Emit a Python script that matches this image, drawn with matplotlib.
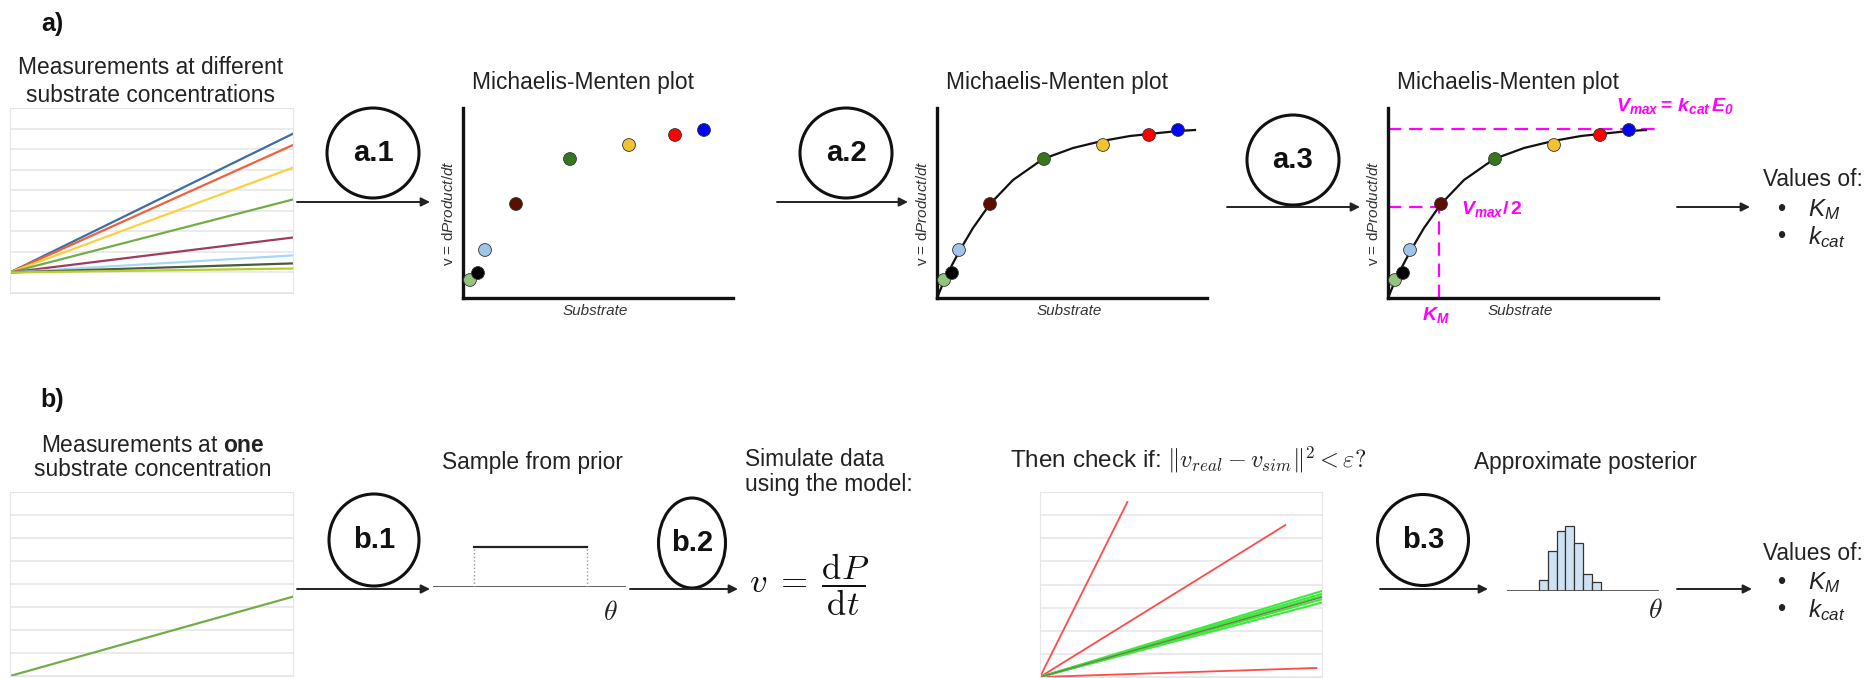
import numpy as np
import matplotlib
matplotlib.use("Agg")
import matplotlib.pyplot as plt
from matplotlib.patches import Ellipse

plt.rcParams["font.family"] = "Liberation Sans"
plt.rcParams["mathtext.fontset"] = "custom"
plt.rcParams["mathtext.rm"] = "Liberation Sans"
plt.rcParams["mathtext.it"] = "Liberation Sans:italic"
plt.rcParams["mathtext.bf"] = "Liberation Sans:bold"
plt.rcParams["mathtext.bfit"] = "Liberation Sans:italic:bold"

# product curves at different substrate concentrations (end value, grid units)
tc_colors = ["#3b6ea5", "#f2603a", "#fcd040", "#72ad48", "#9e3d5e", "#a6d8f5", "#4b5a38", "#b5cf2f"]
tc_end = [6.75, 6.2, 5.1, 3.55, 1.7, 0.83, 0.44, 0.19]
tc_time = [0, 1]

# Michaelis-Menten points (substrate, rate)
mm_s = [7, 15, 22, 53, 107, 166, 212, 241]
mm_v = [18, 25, 48, 94, 139, 153, 163, 168]
mm_colors = ["#93c47d", "#000000", "#9fc5e8", "#5b0f00", "#38761d", "#f1c232", "#ff0000", "#0000ff"]

# fitted curve
fit_s = [0, 7, 15, 23, 36, 53, 76, 106, 136, 165, 193, 212, 241, 258]
fit_v = [0, 17, 33, 48, 70, 94, 118, 139, 150, 157, 162, 164, 167, 168]
vmax_level = 169
half_level = 91
km = 51

# single measurement and simulations
real_end = 3.45
accepted_end = [3.72, 3.6, 3.5, 3.36, 3.22]
rejected_t = [0.31, 0.87, 0.98]
rejected_end = [7.57, 6.57, 0.39]

# prior and posterior
prior_lo, prior_hi = 0.21, 0.80
post_edges = [0.2125, 0.2678, 0.3270, 0.3836, 0.4408, 0.4980, 0.5592, 0.6164]
post_counts = [4, 14, 21, 23, 17, 6, 3]

W, H = 1871, 678
INK = "#222222"
MAG = "#ff00ff"
FS = 16.4

fig = plt.figure(figsize=(W / 100, H / 100), dpi=100)
layer = fig.add_axes([0, 0, 1, 1])
layer.set_xlim(0, W)
layer.set_ylim(H, 0)
layer.axis("off")


def panel(x0, y0, x1, y1):
    return fig.add_axes([x0 / W, 1 - y1 / H, (x1 - x0) / W, (y1 - y0) / H])


def txt(x, y, s, size=FS, **kw):
    kw.setdefault("color", INK)
    kw.setdefault("ha", "center")
    kw.setdefault("va", "center")
    layer.text(x, y, s, fontsize=size, **kw)


def arrow(x0, x1, y):
    layer.annotate("", xy=(x1, y), xytext=(x0, y),
                   arrowprops=dict(arrowstyle="-|>", color=INK, lw=1.4,
                                   mutation_scale=13, shrinkA=0, shrinkB=0))


def step(cx, cy, w, h, label):
    layer.add_patch(Ellipse((cx, cy), w, h, fill=False, lw=2.2, color="#111111"))
    txt(cx, cy, label, size=21, fontweight="bold", color="#111111")


def grid_panel(x0, y0, x1, y1, ylo, yhi):
    ax = panel(x0, y0, x1, y1)
    ax.set_xlim(0, 1)
    ax.set_ylim(ylo, yhi)
    ax.set_xticks([])
    ax.set_yticks(range(ylo, yhi + 1))
    ax.tick_params(length=0, labelleft=False)
    ax.grid(axis="y", color="#e6e6e6", lw=1.1)
    ax.set_axisbelow(True)
    for sp in ax.spines.values():
        sp.set_color("#e6e6e6")
    return ax


def mm_axes(x0):
    ax = panel(x0, 108, x0 + 270, 298)
    ax.set_xlim(0, 270)
    ax.set_ylim(0, 190)
    ax.patch.set_alpha(0)
    for k in ("top", "right"):
        ax.spines[k].set_visible(False)
    for k in ("left", "bottom"):
        ax.spines[k].set_linewidth(2.4)
        ax.spines[k].set_color("#111111")
    ax.set_xticks([])
    ax.set_yticks([])
    txt(x0 + 120, 82, "Michaelis-Menten plot")
    txt(x0 - 14, 213, "v = d$Product/dt$", size=11, rotation=90, color="#333333")
    txt(x0 + 132, 311, "Substrate", size=11, style="italic", color="#333333")
    return ax


def mm_points(ax):
    ax.scatter(mm_s, mm_v, s=85, c=mm_colors, edgecolors="#333333",
               linewidths=0.6, zorder=3, clip_on=False)


def mm_fit(ax):
    ax.plot(fit_s, fit_v, color="#111111", lw=1.6, zorder=2, clip_on=False)


# ---- row a ----
txt(52, 24, "a)", size=18, fontweight="bold", color="#111111")
txt(151, 68, "Measurements at different")
txt(151, 95, "substrate concentrations")
ax = grid_panel(10, 108, 293, 293, -1, 8)
for c, e in zip(tc_colors, tc_end):
    ax.plot(tc_time, [0, e], color=c, lw=1.6)

arrow(297, 430, 202)
step(373, 153, 92, 90, "a.1")
ax = mm_axes(463)
mm_points(ax)

arrow(777, 908, 202)
step(846, 153, 92, 90, "a.2")
ax = mm_axes(937)
mm_fit(ax)
mm_points(ax)

arrow(1227, 1360, 207)
step(1293, 160, 92, 90, "a.3")
ax = mm_axes(1388)
dash = dict(color=MAG, lw=1.6, dashes=(6, 3.5), zorder=1, clip_on=False)
ax.plot([0, 270], [vmax_level, vmax_level], **dash)
ax.plot([0, km], [half_level, half_level], **dash)
ax.plot([km, km], [0, half_level], **dash)
mm_fit(ax)
mm_points(ax)
txt(1436, 315, "$\\mathbfit{K}_{\\mathbfit{M}}$", size=14, color=MAG)
txt(1461, 209, "$\\mathbfit{V}_{\\mathbfit{max}}\\mathbf{/\\,2}$", size=14, color=MAG, ha="left")
txt(1616, 106, "$\\mathbfit{V}_{\\mathbfit{max}}\\mathbf{=}\\,\\mathbfit{k}_{\\mathbfit{cat}}\\,\\mathbfit{E}_{\\mathbfit{0}}$",
    size=14, color=MAG, ha="left")

arrow(1677, 1750, 207)


def values_of(y):
    txt(1763, y, "Values of:", ha="left")
    for dy in (30, 57):
        txt(1781, y + dy, "\u2022", size=17)
    txt(1808, y + 30, "$K_M$", size=17.5, ha="left")
    txt(1808, y + 57, "$k_{cat}$", size=17.5, ha="left")


values_of(180)

# ---- row b ----
txt(52, 400, "b)", size=18, fontweight="bold", color="#111111")
txt(153, 445, "Measurements at $\\mathbf{one}$")
txt(153, 469, "substrate concentration")
ax = grid_panel(10, 492, 293, 676, 0, 8)
ax.plot(tc_time, [0, real_end], color="#72ad48", lw=1.6)

arrow(297, 430, 589)
step(374, 540, 90, 92, "b.1")

txt(532, 462, "Sample from prior")
ax = panel(433, 547, 626, 587)
ax.set_xlim(0, 1)
ax.set_ylim(0, 1)
ax.axis("off")
ax.axhline(0, color="#444444", lw=1.2)
ax.plot([prior_lo, prior_hi], [1, 1], color="#222222", lw=1.6, clip_on=False)
for x in (prior_lo, prior_hi):
    ax.plot([x, x], [0, 1], color="#999999", lw=1, ls=":")
txt(610, 613, "$\\theta$", size=20, math_fontfamily="cm")

arrow(630, 738, 589)
step(692, 543, 67, 90, "b.2")
txt(745, 460, "Simulate data", ha="left")
txt(745, 484, "using the model:", ha="left")
txt(809, 585, "$v\\;=\\;\\dfrac{\\mathrm{d}P}{\\mathrm{d}t}$", size=25, math_fontfamily="cm", color="#111111")

txt(1010, 460, "Then check if: $\\Vert v_{real} - v_{sim}\\Vert^2 < \\varepsilon?$", ha="left",
    size=17.5, math_fontfamily="cm")
ax = grid_panel(1040, 492, 1322, 677, 0, 8)
for t, e in zip(rejected_t, rejected_end):
    ax.plot([0, t], [0, e], color="#ff4a4a", lw=1.3)
for e in accepted_end:
    ax.plot(tc_time, [0, e], color="#3ee83e", lw=1.5)
ax.plot(tc_time, [0, real_end], color="#7a7a50", lw=1.0)

arrow(1380, 1488, 589)
step(1423, 540, 91, 91, "b.3")

txt(1585, 462, "Approximate posterior")
ax = panel(1507, 520, 1659, 591)
ax.set_xlim(0, 1)
ax.set_ylim(0, 25)
ax.axis("off")
ax.axhline(0, color="#444444", lw=1.2)
ax.bar(post_edges[:-1], post_counts, width=np.diff(post_edges), align="edge",
       color="#cfe2f3", edgecolor="#333333", lw=0.9)
txt(1655, 611, "$\\theta$", size=20, math_fontfamily="cm")

arrow(1677, 1752, 589)
values_of(553)

fig.savefig("out.png", dpi=100, facecolor="white")
